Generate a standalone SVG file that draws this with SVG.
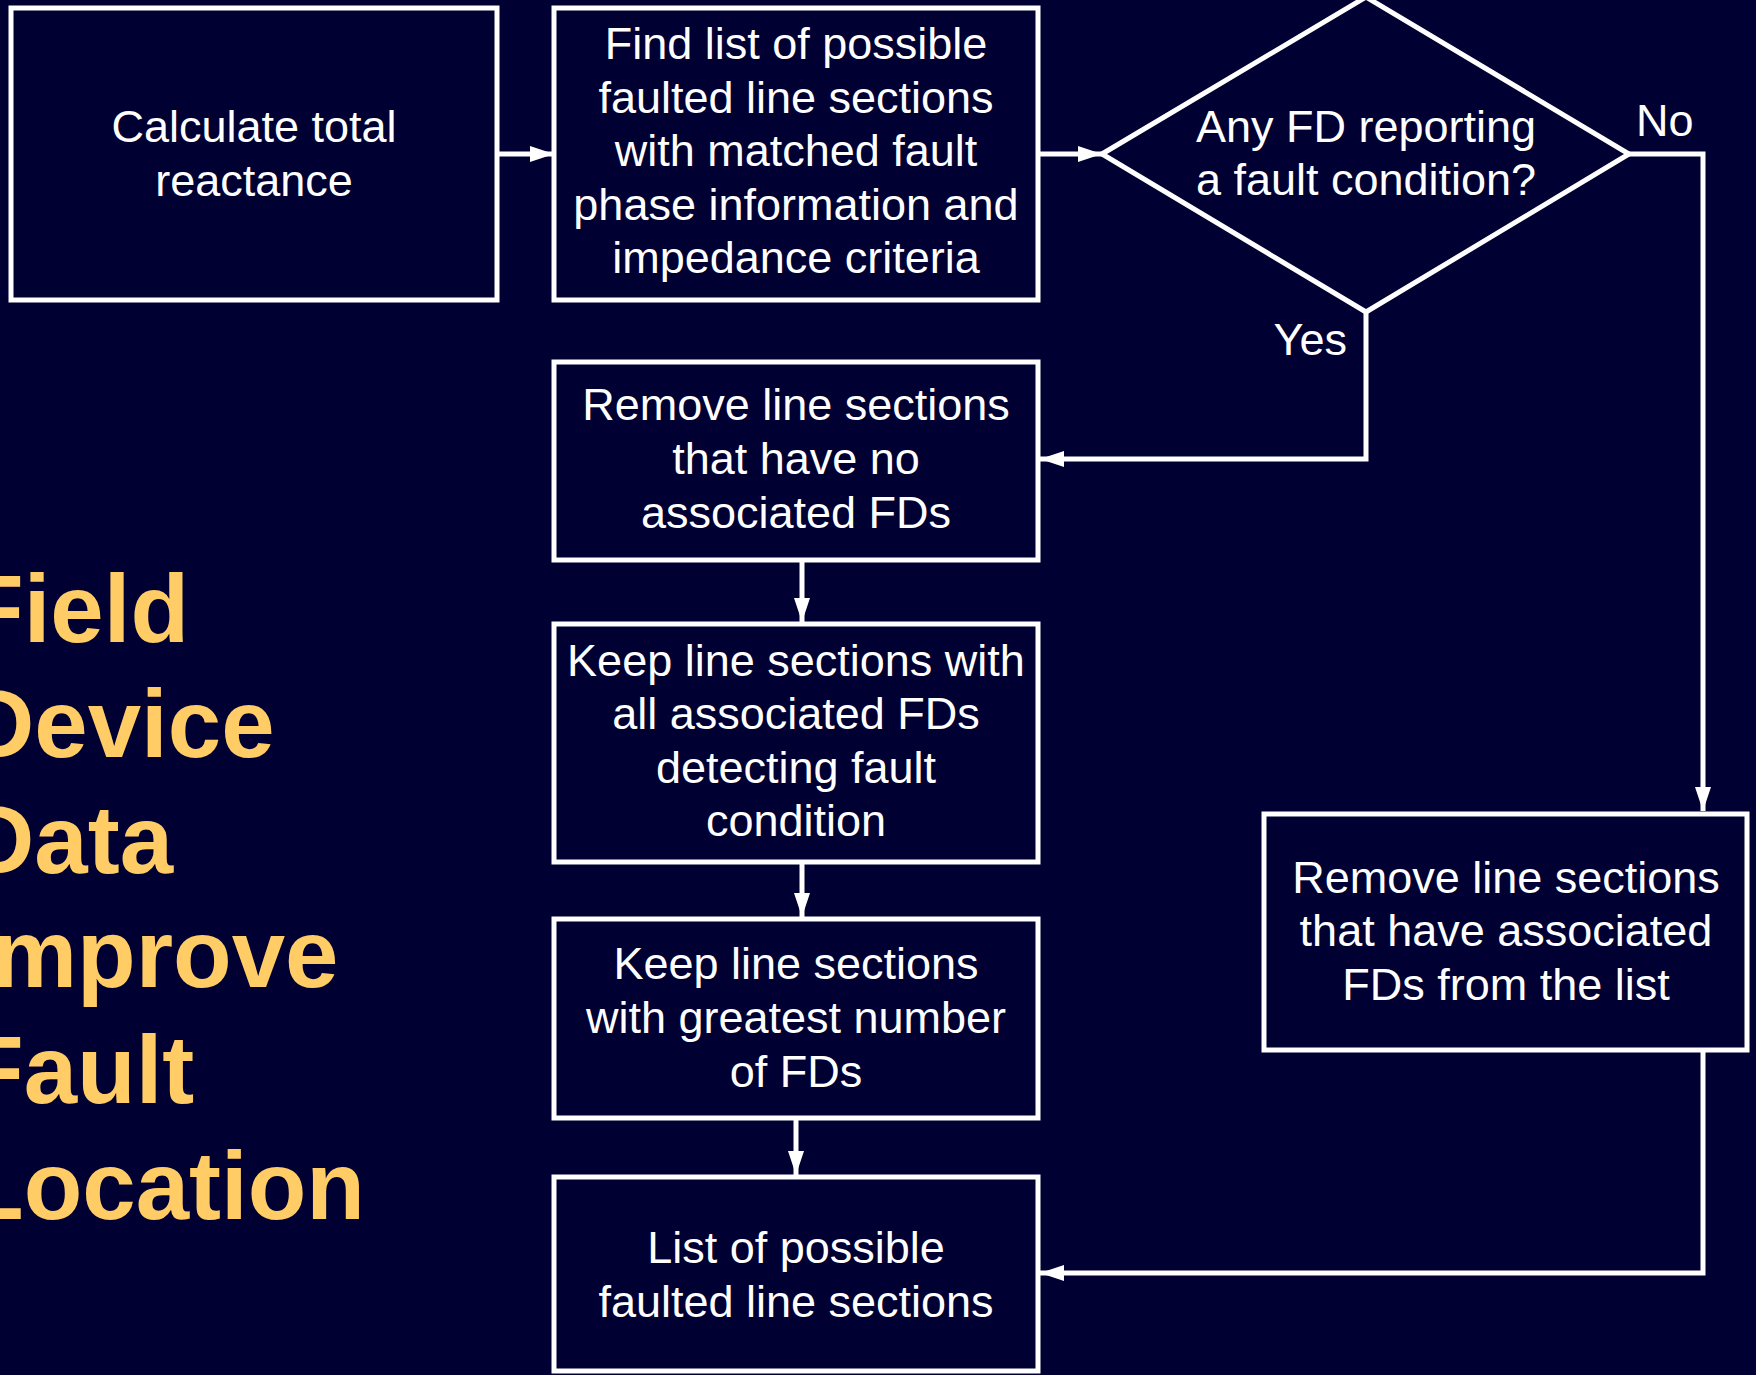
<svg xmlns="http://www.w3.org/2000/svg" width="1756" height="1375" viewBox="0 0 1756 1375">
<style>
.bg{fill:#000033}
.box{fill:#000033;stroke:#ffffff;stroke-width:5}
.t{font-family:"Liberation Sans",Arial,sans-serif;font-size:45px;fill:#ffffff;text-anchor:middle}
.lbl{font-family:"Liberation Sans",Arial,sans-serif;font-size:45px;fill:#ffffff}
.title{font-family:"Liberation Sans",Arial,sans-serif;font-size:96px;font-weight:bold;fill:#ffcc66}
.c{fill:none;stroke:#ffffff;stroke-width:5;marker-end:url(#arr)}
</style>
<defs>
<marker id="arr" markerUnits="userSpaceOnUse" markerWidth="26" markerHeight="18" refX="24" refY="8" orient="auto" viewBox="0 0 26 18">
<path d="M0,0 L24,8 L0,16 z" fill="#ffffff"/>
</marker>
</defs>
<rect class="bg" x="0" y="0" width="1756" height="1375"/>

<g id="title">
<text class="title" x="-35" y="642">Field</text>
<text class="title" x="-35" y="757">Device</text>
<text class="title" x="-35" y="873">Data</text>
<text class="title" x="-35" y="987">Improve</text>
<text class="title" x="-35" y="1103">Fault</text>
<text class="title" x="-35" y="1219">Location</text>
</g>

<g id="connectors">
<path class="c" d="M497,154 L554,154"/>
<path class="c" d="M1038,154 L1102,154"/>
<path class="c" d="M1366,312 L1366,459 L1040,459"/>
<path class="c" d="M1629,154 L1703,154 L1703,811"/>
<path class="c" d="M802,560 L802,622"/>
<path class="c" d="M802,862 L802,917"/>
<path class="c" d="M796,1118 L796,1175"/>
<path class="c" d="M1703,1050 L1703,1273 L1040,1273"/>
</g>

<g id="n1">
<rect class="box" x="11" y="8" width="486" height="292"/>
<text class="t" x="254" y="142">Calculate total</text>
<text class="t" x="254" y="196">reactance</text>
</g>

<g id="n2">
<rect class="box" x="554" y="8" width="484" height="292"/>
<text class="t" x="796" y="59">Find list of possible</text>
<text class="t" x="796" y="113">faulted line sections</text>
<text class="t" x="796" y="166">with matched fault</text>
<text class="t" x="796" y="220">phase information and</text>
<text class="t" x="796" y="273">impedance criteria</text>
</g>

<g id="n3">
<polygon class="box" points="1102,154 1366,-3 1629,154 1366,312"/>
<text class="t" x="1366" y="142">Any FD reporting</text>
<text class="t" x="1366" y="195">a fault condition?</text>
</g>

<g id="labels">
<text class="lbl" x="1636" y="136">No</text>
<text class="lbl" x="1347" y="355" text-anchor="end">Yes</text>
</g>

<g id="n4">
<rect class="box" x="554" y="362" width="484" height="198"/>
<text class="t" x="796" y="420">Remove line sections</text>
<text class="t" x="796" y="474">that have no</text>
<text class="t" x="796" y="528">associated FDs</text>
</g>

<g id="n5">
<rect class="box" x="554" y="624" width="484" height="238"/>
<text class="t" x="796" y="676">Keep line sections with</text>
<text class="t" x="796" y="729">all associated FDs</text>
<text class="t" x="796" y="783">detecting fault</text>
<text class="t" x="796" y="836">condition</text>
</g>

<g id="n6">
<rect class="box" x="554" y="919" width="484" height="199"/>
<text class="t" x="796" y="979">Keep line sections</text>
<text class="t" x="796" y="1033">with greatest number</text>
<text class="t" x="796" y="1087">of FDs</text>
</g>

<g id="n7">
<rect class="box" x="554" y="1177" width="484" height="194"/>
<text class="t" x="796" y="1263">List of possible</text>
<text class="t" x="796" y="1317">faulted line sections</text>
</g>

<g id="n8">
<rect class="box" x="1264" y="814" width="483" height="236"/>
<text class="t" x="1506" y="893">Remove line sections</text>
<text class="t" x="1506" y="946">that have associated</text>
<text class="t" x="1506" y="1000">FDs from the list</text>
</g>
</svg>
